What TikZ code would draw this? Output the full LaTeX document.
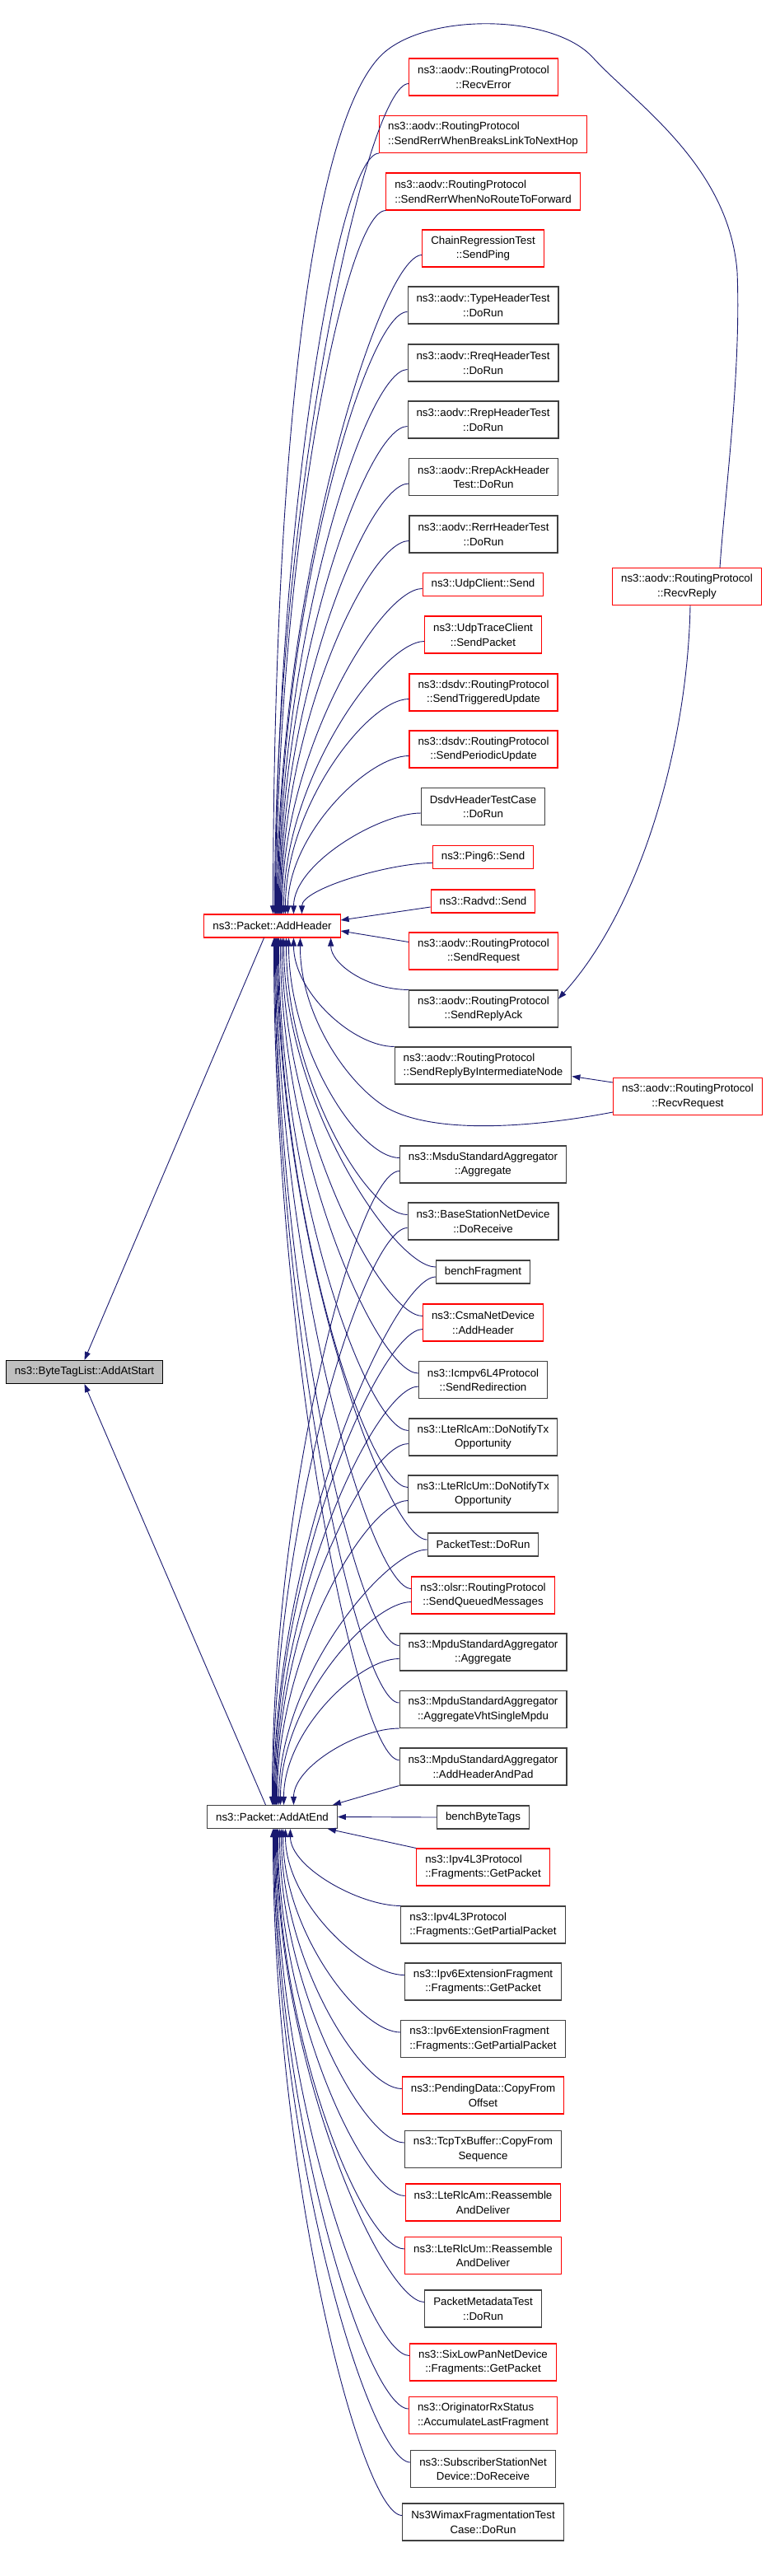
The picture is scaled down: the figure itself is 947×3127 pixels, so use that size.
\documentclass[tikz,border=0pt]{standalone}
\usepackage{fontspec}
\setmainfont{Liberation Sans}
\usetikzlibrary{arrows.meta,calc}
\definecolor{edgeblue}{HTML}{191970}
\definecolor{boxred}{HTML}{FF0000}
\definecolor{boxgrey}{HTML}{404040}
\definecolor{cur}{HTML}{BFBFBF}
\begin{document}
\begin{tikzpicture}[x=1pt, y=-1pt,
        fn/.style={rectangle, draw=#1, fill=white, line width=1.1pt, inner xsep=10.5pt, inner ysep=2pt,
            minimum height=28pt, align=center, font=\fontsize{13.3}{17.5}\selectfont},
        fn/.default=boxgrey,
        two/.style={minimum height=45pt},
        e/.style={draw=edgeblue, line width=0.9pt, -{Triangle[length=10pt,width=7pt]}},
        call/.style={to path={let \p1=(\tikztostart), \p2=(\tikztotarget) in
            .. controls (\x1-50pt,\y1) and (\x2,{0.5*(\y1+\y2)}) .. (\tikztotarget)}}]
        \useasboundingbox (0,0) rectangle (947,3127);

        \node[fn=black, fill=cur] (byteTag) at (102.5,1665.5) {ns3::ByteTagList::AddAtStart};
        \node[fn=boxred] (addHeader) at (330.5,1124) {ns3::Packet::AddHeader};
        \node[fn] (addAtEnd) at (330.5,2205.5) {ns3::Packet::AddAtEnd};

        \node[fn=boxred, two] (recvReply) at (834,712) {ns3::aodv::RoutingProtocol\\::RecvReply};
        \node[fn=boxred, two] (recvRequest) at (835,1331) {ns3::aodv::RoutingProtocol\\::RecvRequest};

        \node[fn=boxred, two] (recvError) at (587,93.5) {ns3::aodv::RoutingProtocol\\::RecvError};
        \node[fn=boxred, two, align=left] (sendRerrBreaks) at (586.5,163) {ns3::aodv::RoutingProtocol\\::SendRerrWhenBreaksLinkToNextHop};
        \node[fn=boxred, two, align=left] (sendRerrNoRoute) at (586.5,232.5) {ns3::aodv::RoutingProtocol\\::SendRerrWhenNoRouteToForward};
        \node[fn=boxred, two] (chainPing) at (586.5,301.5) {ChainRegressionTest\\::SendPing};
        \node[fn, two] (typeHdr) at (586.5,370.5) {ns3::aodv::TypeHeaderTest\\::DoRun};
        \node[fn, two] (rreqHdr) at (586.5,440.5) {ns3::aodv::RreqHeaderTest\\::DoRun};
        \node[fn, two] (rrepHdr) at (586.5,509.5) {ns3::aodv::RrepHeaderTest\\::DoRun};
        \node[fn, two] (rrepAckHdr) at (587,579) {ns3::aodv::RrepAckHeader\\Test::DoRun};
        \node[fn, two] (rerrHdr) at (587,648.5) {ns3::aodv::RerrHeaderTest\\::DoRun};
        \node[fn=boxred] (udpSend) at (586.5,709.5) {ns3::UdpClient::Send};
        \node[fn=boxred, two] (udpTrace) at (586.5,770.5) {ns3::UdpTraceClient\\::SendPacket};
        \node[fn=boxred, two] (dsdvTrig) at (587,840.5) {ns3::dsdv::RoutingProtocol\\::SendTriggeredUpdate};
        \node[fn=boxred, two] (dsdvPer) at (587,909.5) {ns3::dsdv::RoutingProtocol\\::SendPeriodicUpdate};
        \node[fn, two] (dsdvHdr) at (586.5,979) {DsdvHeaderTestCase\\::DoRun};
        \node[fn=boxred] (ping6) at (586.5,1040.5) {ns3::Ping6::Send};
        \node[fn=boxred] (radvd) at (586.5,1094) {ns3::Radvd::Send};
        \node[fn=boxred, two] (sendReq) at (587,1154.5) {ns3::aodv::RoutingProtocol\\::SendRequest};
        \node[fn, two] (sendReplyAck) at (587,1224.5) {ns3::aodv::RoutingProtocol\\::SendReplyAck};
        \node[fn, two, align=left] (sendReplyInter) at (586.5,1293.5) {ns3::aodv::RoutingProtocol\\::SendReplyByIntermediateNode};
        \node[fn, two] (msduAgg) at (586.5,1413.5) {ns3::MsduStandardAggregator\\::Aggregate};
        \node[fn, two] (bsDoRecv) at (586.5,1482.5) {ns3::BaseStationNetDevice\\::DoReceive};
        \node[fn] (benchFrag) at (586.5,1544) {benchFragment};
        \node[fn=boxred, two] (csmaHdr) at (586.5,1605.5) {ns3::CsmaNetDevice\\::AddHeader};
        \node[fn, two] (icmpRedir) at (586.5,1675) {ns3::Icmpv6L4Protocol\\::SendRedirection};
        \node[fn, two] (rlcAmNotify) at (586.5,1744.5) {ns3::LteRlcAm::DoNotifyTx\\Opportunity};
        \node[fn, two] (rlcUmNotify) at (586.5,1813.5) {ns3::LteRlcUm::DoNotifyTx\\Opportunity};
        \node[fn] (pktTest) at (586.5,1875) {PacketTest::DoRun};
        \node[fn=boxred, two] (olsrQueued) at (586.5,1936.5) {ns3::olsr::RoutingProtocol\\::SendQueuedMessages};
        \node[fn, two] (mpduAgg) at (586.5,2005.5) {ns3::MpduStandardAggregator\\::Aggregate};
        \node[fn, two] (mpduVht) at (586.5,2075) {ns3::MpduStandardAggregator\\::AggregateVhtSingleMpdu};
        \node[fn, two] (mpduPad) at (586.5,2144.5) {ns3::MpduStandardAggregator\\::AddHeaderAndPad};
        \node[fn] (benchTags) at (586.5,2206) {benchByteTags};
        \node[fn=boxred, two, align=left] (ipv4Frag) at (586.5,2266.5) {ns3::Ipv4L3Protocol\\::Fragments::GetPacket};
        \node[fn, two, align=left] (ipv4Part) at (586.5,2336.5) {ns3::Ipv4L3Protocol\\::Fragments::GetPartialPacket};
        \node[fn, two] (ipv6Frag) at (586.5,2405.5) {ns3::Ipv6ExtensionFragment\\::Fragments::GetPacket};
        \node[fn, two, align=left] (ipv6Part) at (586.5,2475) {ns3::Ipv6ExtensionFragment\\::Fragments::GetPartialPacket};
        \node[fn=boxred, two] (pendCopy) at (586.5,2543.5) {ns3::PendingData::CopyFrom\\Offset};
        \node[fn, two] (tcpCopy) at (586.5,2609) {ns3::TcpTxBuffer::CopyFrom\\Sequence};
        \node[fn=boxred, two] (rlcAmReasm) at (586.5,2673.5) {ns3::LteRlcAm::Reassemble\\AndDeliver};
        \node[fn=boxred, two] (rlcUmReasm) at (586.5,2738) {ns3::LteRlcUm::Reassemble\\AndDeliver};
        \node[fn, two] (pktMetaTest) at (586.5,2802.5) {PacketMetadataTest\\::DoRun};
        \node[fn=boxred, two] (sixLowPan) at (586.5,2867.5) {ns3::SixLowPanNetDevice\\::Fragments::GetPacket};
        \node[fn=boxred, two, align=left] (origRx) at (586.5,2932) {ns3::OriginatorRxStatus\\::AccumulateLastFragment};
        \node[fn, two] (ssDoRecv) at (586.5,2997) {ns3::SubscriberStationNet\\Device::DoReceive};
        \node[fn, two] (wimaxTest) at (586.5,3061.5) {Ns3WimaxFragmentationTest\\Case::DoRun};

        \draw[e] ([xshift=-10pt]addHeader.south) -- (byteTag.north);
        \draw[e] ([xshift=-8pt]addAtEnd.north) -- (byteTag.south);

        \draw[e] ([xshift=40pt]recvReply.north) .. controls (880,600) and (900,450) .. (895,330)
            .. controls (885,200) and (770,125) .. (720,70) .. controls (670,15) and (510,15) .. (460,70)
            .. controls (370,169) and (332,600) .. ([xshift=1pt]addHeader.north);
        \draw[e] ([xshift=4pt]recvReply.south) .. controls (835,900) and (780,1100) .. ([yshift=12pt]sendReplyAck.east);
        \draw[e] ([yshift=17pt]recvRequest.west) -- ([yshift=-13pt]sendReplyInter.east);
        \draw[e] ([yshift=-19pt]recvRequest.west) .. controls (650,1368) and (530,1378) .. (470,1345)
            .. controls (420,1315) and (364,1230) .. ([xshift=34pt]addHeader.south);

        \draw[e] ([yshift=-8pt]recvError.west) to[call] ([xshift=3pt]addHeader.north);
        \draw[e] (sendRerrBreaks.south west) to[call] ([xshift=4pt]addHeader.north);
        \draw[e] (sendRerrNoRoute.south west) to[call] ([xshift=5pt]addHeader.north);
        \draw[e] ([yshift=-8pt]chainPing.west) to[call] ([xshift=6pt]addHeader.north);
        \draw[e] ([yshift=-8pt]typeHdr.west) to[call] ([xshift=7pt]addHeader.north);
        \draw[e] ([yshift=-8pt]rreqHdr.west) to[call] ([xshift=8pt]addHeader.north);
        \draw[e] ([yshift=-8pt]rrepHdr.west) to[call] ([xshift=9pt]addHeader.north);
        \draw[e] ([yshift=-8pt]rrepAckHdr.west) to[call] ([xshift=10pt]addHeader.north);
        \draw[e] ([yshift=-8pt]rerrHdr.west) to[call] ([xshift=11pt]addHeader.north);
        \draw[e] ([yshift=-5pt]udpSend.west) to[call] ([xshift=12pt]addHeader.north);
        \draw[e] ([yshift=-8pt]udpTrace.west) to[call] ([xshift=14pt]addHeader.north);
        \draw[e] ([yshift=-8pt]dsdvTrig.west) to[call] ([xshift=16pt]addHeader.north);
        \draw[e] ([yshift=-8pt]dsdvPer.west) to[call] ([xshift=19pt]addHeader.north);
        \draw[e] ([yshift=-8pt]dsdvHdr.west) to[call] ([xshift=26pt]addHeader.north);
        \draw[e] ([yshift=-7pt]ping6.west) to[call] ([xshift=36pt]addHeader.north);
        \draw[e] ([yshift=-7pt]radvd.west) -- ([yshift=7pt]addHeader.east);
        \draw[e] ([yshift=11pt]sendReq.west) -- ([yshift=-6pt]addHeader.east);
        \draw[e] (sendReplyAck.north west) to[call] ([xshift=-12pt]addHeader.south east);
        \draw[e] (sendReplyInter.north west) to[call] ([xshift=26pt]addHeader.south);
        \draw[e] ([yshift=8pt]msduAgg.west) to[call] ([xshift=20pt]addHeader.south);
        \draw[e] ([yshift=8pt]bsDoRecv.west) to[call] ([xshift=17pt]addHeader.south);
        \draw[e] ([yshift=6pt]benchFrag.west) to[call] ([xshift=14pt]addHeader.south);
        \draw[e] ([yshift=8pt]csmaHdr.west) to[call] ([xshift=12pt]addHeader.south);
        \draw[e] ([yshift=8pt]icmpRedir.west) to[call] ([xshift=10pt]addHeader.south);
        \draw[e] ([yshift=8pt]rlcAmNotify.west) to[call] ([xshift=8pt]addHeader.south);
        \draw[e] ([yshift=8pt]rlcUmNotify.west) to[call] ([xshift=7pt]addHeader.south);
        \draw[e] ([yshift=6pt]pktTest.west) to[call] ([xshift=6pt]addHeader.south);
        \draw[e] ([yshift=8pt]olsrQueued.west) to[call] ([xshift=5pt]addHeader.south);
        \draw[e] ([yshift=8pt]mpduAgg.west) to[call] ([xshift=4pt]addHeader.south);
        \draw[e] ([yshift=8pt]mpduVht.west) to[call] ([xshift=3pt]addHeader.south);
        \draw[e] ([yshift=8pt]mpduPad.west) to[call] ([xshift=2pt]addHeader.south);

        \draw[e] ([yshift=-8pt]msduAgg.west) to[call] ([xshift=0pt]addAtEnd.north);
        \draw[e] ([yshift=-8pt]bsDoRecv.west) to[call] ([xshift=1pt]addAtEnd.north);
        \draw[e] ([yshift=-6pt]benchFrag.west) to[call] ([xshift=2pt]addAtEnd.north);
        \draw[e] ([yshift=-8pt]csmaHdr.west) to[call] ([xshift=3pt]addAtEnd.north);
        \draw[e] ([yshift=-8pt]icmpRedir.west) to[call] ([xshift=4pt]addAtEnd.north);
        \draw[e] ([yshift=-8pt]rlcAmNotify.west) to[call] ([xshift=5pt]addAtEnd.north);
        \draw[e] ([yshift=-8pt]rlcUmNotify.west) to[call] ([xshift=6pt]addAtEnd.north);
        \draw[e] ([yshift=-6pt]pktTest.west) to[call] ([xshift=8pt]addAtEnd.north);
        \draw[e] ([yshift=-8pt]olsrQueued.west) to[call] ([xshift=10pt]addAtEnd.north);
        \draw[e] ([yshift=-8pt]mpduAgg.west) to[call] ([xshift=14pt]addAtEnd.north);
        \draw[e] (mpduVht.south west) to[call] ([xshift=26pt]addAtEnd.north);
        \draw[e] (mpduPad.south west) -- ([xshift=-6pt]addAtEnd.north east);
        \draw[e] (benchTags.west) -- (addAtEnd.east);
        \draw[e] (ipv4Frag.north west) -- ([xshift=-12pt]addAtEnd.south east);
        \draw[e] (ipv4Part.north west) to[call] ([xshift=22pt]addAtEnd.south);
        \draw[e] ([yshift=8pt]ipv6Frag.west) to[call] ([xshift=16pt]addAtEnd.south);
        \draw[e] ([yshift=8pt]ipv6Part.west) to[call] ([xshift=13pt]addAtEnd.south);
        \draw[e] ([yshift=8pt]pendCopy.west) to[call] ([xshift=11pt]addAtEnd.south);
        \draw[e] ([yshift=8pt]tcpCopy.west) to[call] ([xshift=9pt]addAtEnd.south);
        \draw[e] ([yshift=8pt]rlcAmReasm.west) to[call] ([xshift=7pt]addAtEnd.south);
        \draw[e] ([yshift=8pt]rlcUmReasm.west) to[call] ([xshift=6pt]addAtEnd.south);
        \draw[e] ([yshift=8pt]pktMetaTest.west) to[call] ([xshift=5pt]addAtEnd.south);
        \draw[e] ([yshift=8pt]sixLowPan.west) to[call] ([xshift=4pt]addAtEnd.south);
        \draw[e] ([yshift=8pt]origRx.west) to[call] ([xshift=3pt]addAtEnd.south);
        \draw[e] ([yshift=8pt]ssDoRecv.west) to[call] ([xshift=2pt]addAtEnd.south);
        \draw[e] ([yshift=8pt]wimaxTest.west) to[call] ([xshift=1pt]addAtEnd.south);
    \end{tikzpicture}
\end{document}
